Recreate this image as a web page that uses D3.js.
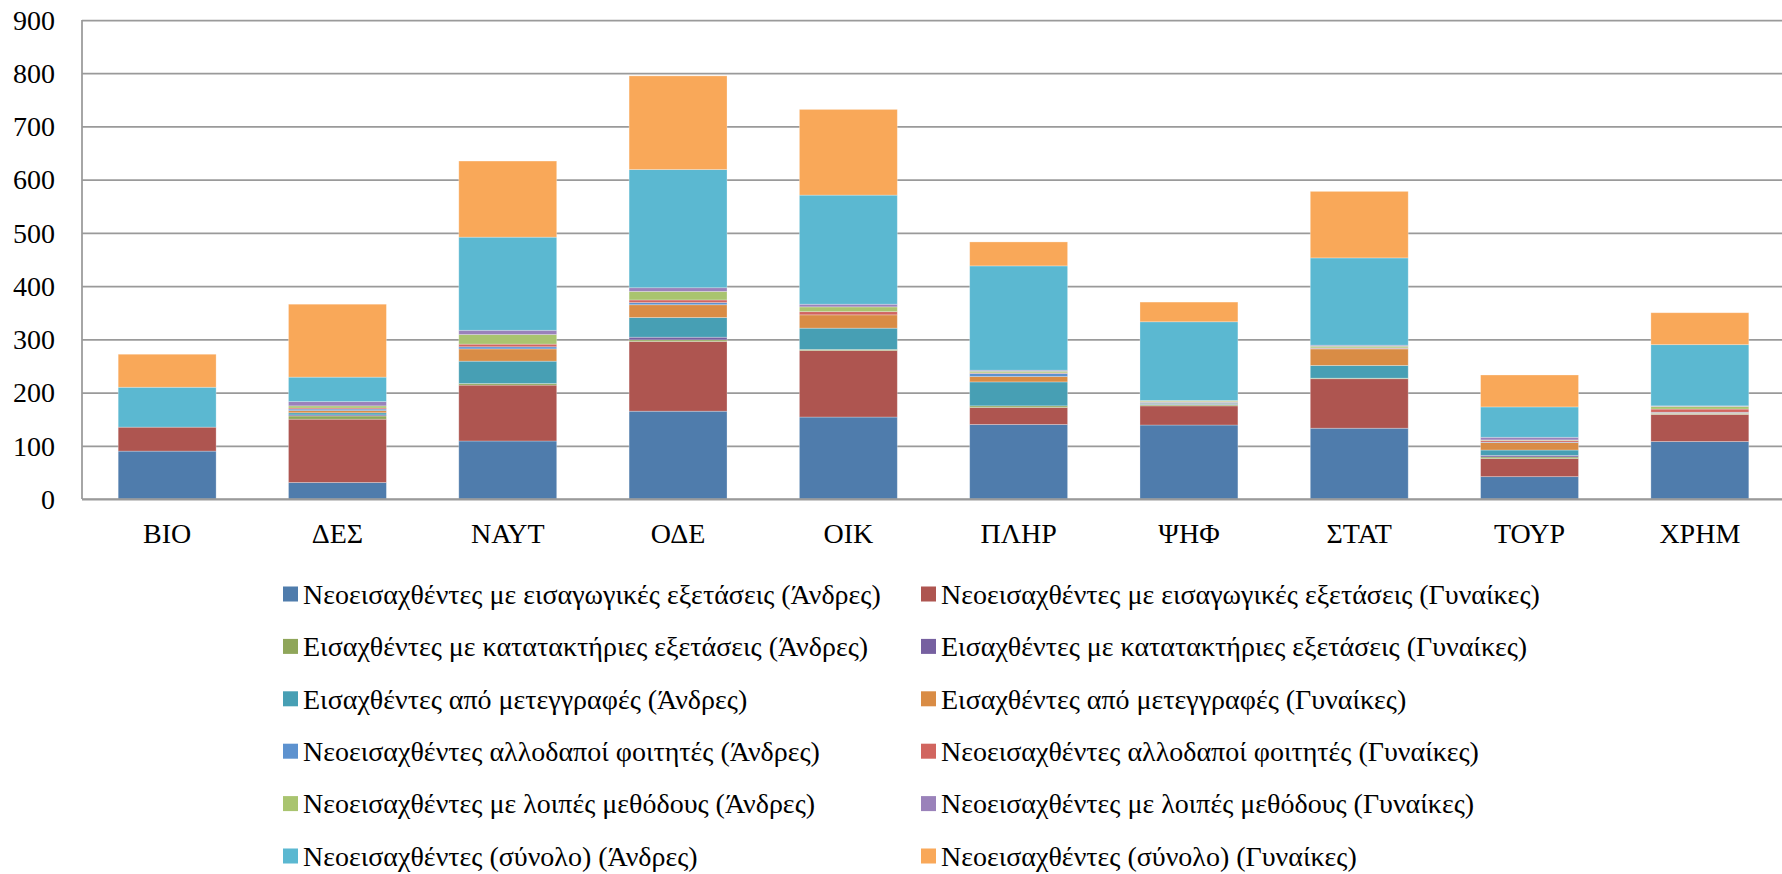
<!DOCTYPE html>
<html>
<head>
<meta charset="utf-8">
<script src="https://cdn.jsdelivr.net/npm/d3@7"></script>
<style>
  html, body { margin: 0; padding: 0; background: #fff; }
  svg { display: block; }
  text { font-family: "Liberation Serif", "DejaVu Serif", serif; fill: #000; }
</style>
</head>
<body>
<svg id="chart" width="1782" height="874"></svg>
<script>
// categories (departments)
var categories = ["ΒΙΟ", "ΔΕΣ", "ΝΑΥΤ", "ΟΔΕ", "ΟΙΚ", "ΠΛΗΡ", "ΨΗΦ", "ΣΤΑΤ", "ΤΟΥΡ", "ΧΡΗΜ"];

var yTicks = [0, 100, 200, 300, 400, 500, 600, 700, 800, 900];

var seriesNames = [
    "Νεοεισαχθέντες με εισαγωγικές εξετάσεις (Άνδρες)",
    "Νεοεισαχθέντες με εισαγωγικές εξετάσεις (Γυναίκες)",
    "Εισαχθέντες με κατατακτήριες εξετάσεις (Άνδρες)",
    "Εισαχθέντες με κατατακτήριες εξετάσεις (Γυναίκες)",
    "Εισαχθέντες από μετεγγραφές (Άνδρες)",
    "Εισαχθέντες από μετεγγραφές (Γυναίκες)",
    "Νεοεισαχθέντες αλλοδαποί φοιτητές (Άνδρες)",
    "Νεοεισαχθέντες αλλοδαποί φοιτητές (Γυναίκες)",
    "Νεοεισαχθέντες με λοιπές μεθόδους (Άνδρες)",
    "Νεοεισαχθέντες με λοιπές μεθόδους (Γυναίκες)",
    "Νεοεισαχθέντες (σύνολο) (Άνδρες)",
    "Νεοεισαχθέντες (σύνολο) (Γυναίκες)"
];

var seriesColors = ["#4f7cac", "#ae5550", "#8fa65a", "#7660a0", "#479fb4", "#d98c45",
                    "#5d92cf", "#d1655f", "#a9c46f", "#9a82ba", "#5bb8d1", "#f9a859"];

// one array per series, in category order
var eisagAndres    = [90, 31, 109, 165, 154, 140, 139, 133, 42, 108];
var eisagGynaikes  = [45, 119, 105, 131, 125, 32, 36, 93, 34, 51];
var katatAndres    = [0, 6, 3, 3, 2, 3, 2, 1, 3, 1];
var katatGynaikes  = [0, 2, 0, 5, 0, 0, 1, 0, 3, 0];
var metegAndres    = [0, 4, 42, 37, 40, 45, 2, 24, 10, 1];
var metegGynaikes  = [0, 4, 23, 24, 25, 10, 1, 31, 14, 1];
var allodAndres    = [0, 3, 4, 4, 0, 6, 1, 1, 1, 1];
var allodGynaikes  = [0, 2, 5, 5, 6, 1, 1, 1, 3, 6];
var loipesAndres   = [0, 4, 18, 16, 9, 3, 2, 3, 1, 5];
var loipesGynaikes = [0, 8, 8, 7, 5, 2, 0, 2, 5, 1];
var synoloAndres   = [75, 46, 175, 222, 205, 196, 148, 164, 57, 115];
var synoloGynaikes = [62, 137, 143, 176, 161, 45, 37, 125, 60, 60];

var seriesValues = [eisagAndres, eisagGynaikes, katatAndres, katatGynaikes,
                    metegAndres, metegGynaikes, allodAndres, allodGynaikes,
                    loipesAndres, loipesGynaikes, synoloAndres, synoloGynaikes];

var svg = d3.select("#chart");

var plot = { left: 82, right: 1785, top: 20, bottom: 499 };
var fontSize = "28px";

// table for d3.stack
var rows = categories.map(function (c, i) {
    var r = { cat: c };
    seriesValues.forEach(function (s, k) { r[k] = s[i]; });
    return r;
});
var keys = seriesValues.map(function (s, k) { return k; });
var stacked = d3.stack().keys(keys)(rows);

var x = d3.scaleBand()
    .domain(categories)
    .range([plot.left, plot.right])
    .paddingInner(0.425)
    .paddingOuter(0.2125);

var y = d3.scaleLinear()
    .domain([0, 900])
    .range([plot.bottom, plot.top]);

// gridlines
var yAxis = d3.axisLeft(y)
    .tickValues(yTicks)
    .tickSize(-(plot.right - plot.left))
    .tickFormat("");

var grid = svg.append("g")
    .attr("class", "grid")
    .attr("transform", "translate(" + plot.left + ",0)")
    .call(yAxis);
grid.select(".domain").remove();
grid.selectAll("line")
    .attr("stroke", "#9a9a9a")
    .attr("stroke-width", 1.75);

// tick labels
svg.append("g")
    .selectAll("text")
    .data(yTicks)
    .enter().append("text")
    .attr("x", 55)
    .attr("y", function (d) { return y(d); })
    .attr("dy", "0.35em")
    .attr("text-anchor", "end")
    .style("font-size", fontSize)
    .text(function (d) { return d; });

// bars
var layers = svg.append("g")
    .selectAll("g")
    .data(stacked)
    .enter().append("g")
    .attr("fill", function (d) { return seriesColors[d.key]; });

layers.selectAll("rect")
    .data(function (d) { return d; })
    .enter().append("rect")
    .attr("x", function (d) { return x(d.data.cat); })
    .attr("width", x.bandwidth())
    .attr("y", function (d) { return y(d[1]); })
    .attr("height", function (d) { return y(d[0]) - y(d[1]); })
    .attr("stroke", "#fff")
    .attr("stroke-opacity", 0.35)
    .attr("stroke-width", 0.8);

// axis lines
svg.append("line")
    .attr("x1", plot.left).attr("x2", plot.left)
    .attr("y1", plot.top).attr("y2", plot.bottom)
    .attr("stroke", "#9a9a9a").attr("stroke-width", 1.75);
svg.append("line")
    .attr("x1", plot.left).attr("x2", plot.right)
    .attr("y1", plot.bottom).attr("y2", plot.bottom)
    .attr("stroke", "#9a9a9a").attr("stroke-width", 1.75);

// category labels
svg.append("g")
    .selectAll("text")
    .data(categories)
    .enter().append("text")
    .attr("x", function (d) { return x(d) + x.bandwidth() / 2; })
    .attr("y", 543)
    .attr("text-anchor", "middle")
    .style("font-size", fontSize)
    .text(function (d) { return d; });

// legend, two columns
var legendCols = [283, 921];
var legend = svg.append("g")
    .selectAll("g")
    .data(seriesNames)
    .enter().append("g")
    .attr("transform", function (d, i) {
        return "translate(" + legendCols[i % 2] + "," + (594 + Math.floor(i / 2) * 52.4) + ")";
    });

legend.append("rect")
    .attr("x", 0)
    .attr("y", -7.5)
    .attr("width", 15)
    .attr("height", 15)
    .attr("fill", function (d, i) { return seriesColors[i]; });

legend.append("text")
    .attr("x", 20)
    .attr("y", 0)
    .attr("dy", "0.35em")
    .style("font-size", fontSize)
    .text(function (d) { return d; });
</script>
</body>
</html>
